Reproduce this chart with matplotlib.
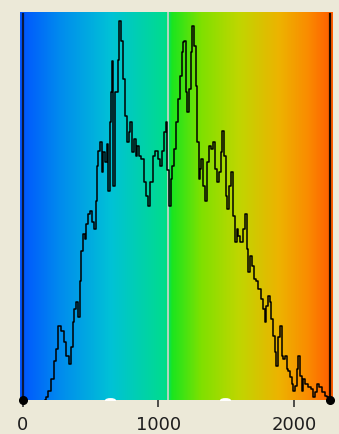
import numpy as np
import matplotlib
matplotlib.use("Agg")
import matplotlib.pyplot as plt
from matplotlib.colors import LinearSegmentedColormap
from matplotlib.path import Path
from matplotlib.transforms import Affine2D

# ---- data ----
levels = [160, 175, 199, 221, 236, 251, 273, 293, 310, 332, 352, 362, 369, 384, 399,
          413, 426, 435, 450, 463, 472, 487, 507, 517, 531, 544, 551, 561, 576, 588,
          598, 613, 625, 635, 647, 655, 662, 672, 692, 705, 716, 728, 745, 760, 775,
          790, 797, 810, 827, 839, 849, 863, 886, 906, 915, 930, 950, 967, 987, 1004,
          1024, 1033, 1048, 1061, 1072, 1085, 1097, 1109, 1122, 1134, 1151, 1164, 1179,
          1188, 1196, 1208, 1220, 1232, 1245, 1257, 1269, 1282, 1292, 1299, 1311, 1323,
          1336, 1351, 1363, 1380, 1397, 1412, 1424, 1441, 1454, 1466, 1478, 1491, 1503,
          1515, 1528, 1545, 1557, 1570, 1582, 1594, 1607, 1618, 1631, 1646, 1658, 1670,
          1683, 1700, 1708, 1725, 1744, 1762, 1779, 1791, 1803, 1815, 1828, 1840, 1852,
          1865, 1877, 1889, 1904, 1914, 1928, 1941, 1951, 1965, 1976, 1990, 2002, 2015,
          2027, 2039, 2052, 2061, 2074, 2094, 2113, 2131, 2148, 2162, 2179, 2197, 2216,
          2236, 2253, 2266]
counts = [0, 3, 9, 21, 39, 51, 74, 69, 58, 44, 36, 53, 78, 91, 98,
          83, 119, 149, 166, 161, 176, 186, 189, 178, 171, 199, 234, 249, 258, 228,
          248, 238, 256, 209, 278, 308, 339, 214, 308, 340, 379, 359, 321, 284, 258,
          268, 278, 248, 261, 244, 254, 244, 241, 218, 204, 194, 218, 244, 249, 241,
          234, 249, 268, 278, 230, 194, 221, 234, 251, 278, 301, 324, 348,
          358, 359, 308, 288, 311, 348, 374, 354, 314, 258, 221, 231, 241,
          214, 199, 238, 254, 251, 258, 231, 218, 228, 248, 269, 244, 204,
          191, 214, 228, 184, 158, 171, 164, 158, 158, 171, 186, 151, 128,
          144, 134, 121, 119, 111, 101, 91, 78, 94, 104, 98, 81, 64,
          48, 34, 63, 74, 44, 41, 44, 31, 29, 23, 16, 9, 14,
          31, 44, 24, 9, 21, 16, 13, 11, 3, 8, 16, 13, 8,
          4, 3, 0]
range_min = 0
range_max = 2266
midpoint = 1072
handles = [642, 1491]
tick_values = [0, 1000, 2000]
tick_labels = ["0", "1000", "2000"]

# ---- figure ----
W, H = 339, 435
fig = plt.figure(figsize=(W / 100, H / 100), dpi=100, facecolor="#ECE9D8")
ax = fig.add_axes([20 / W, 34 / H, 313 / W, 388 / H])
ax.set_facecolor("#ECE9D8")

xmin, xmax = -22, 2288
ymax = 388
ax.set_xlim(xmin, xmax)
ax.set_ylim(0, ymax)

# gradient background
stops = [
    (0.00, (0.00, 0.33, 1.00)),
    (0.13, (0.00, 0.55, 0.93)),
    (0.29, (0.00, 0.76, 0.84)),
    (0.46, (0.00, 0.86, 0.56)),
    (0.475, (0.00, 0.88, 0.45)),
    (0.485, (0.10, 0.90, 0.12)),
    (0.58, (0.50, 0.88, 0.00)),
    (0.70, (0.75, 0.84, 0.00)),
    (0.83, (0.93, 0.70, 0.00)),
    (0.92, (0.98, 0.55, 0.00)),
    (1.00, (1.00, 0.36, 0.00)),
]
cmap = LinearSegmentedColormap.from_list("grad", stops, N=512)
grad = np.linspace(0, 1, 600).reshape(1, -1)
ax.imshow(grad, cmap=cmap, aspect="auto", extent=[xmin, xmax, 0, ymax],
          interpolation="bilinear", zorder=0)

# midpoint line
ax.axvline(midpoint, color="#d2d2d2", lw=1.2, zorder=2)

# range lines
ax.plot([range_min, range_min], [0, ymax * 0.995], color="#0a1a40", lw=1.6, zorder=3)
ax.plot([range_max, range_max], [0, ymax * 0.995], color="#1a0a00", lw=1.6, zorder=3)

# histogram
ax.step(levels, counts, where="mid", color="black", lw=1.1, zorder=4)

# end dots
ax.plot([range_min, range_max], [0, 0], "o", color="black", ms=5.5, zorder=6,
        clip_on=False)

# white handles
ell = Path.unit_circle().transformed(Affine2D().scale(1.0, 0.35))
ax.plot(handles, [0, 0], linestyle="none", marker=ell, ms=7, color="white",
        mec="white", zorder=5, clip_on=True)

for s in ax.spines.values():
    s.set_visible(False)
ax.set_yticks([])
ax.set_xticks(tick_values)
ax.set_xticklabels(tick_labels)
ax.tick_params(axis="x", length=5, width=1.1, color="#222222", pad=6,
               labelsize=13, labelcolor="#1e1e1e")

fig.savefig("out.png", dpi=100, facecolor=fig.get_facecolor())
